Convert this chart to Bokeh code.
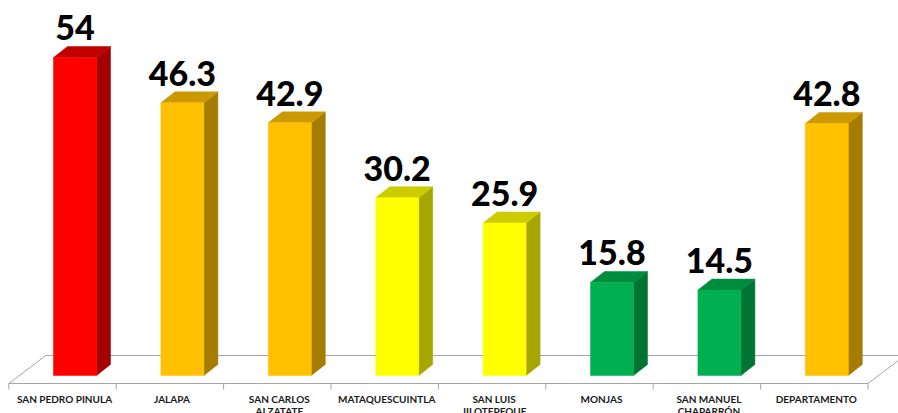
from bokeh.plotting import figure
from bokeh.models import Range1d, ColumnDataSource
from bokeh.core.properties import value
from bokeh.embed import file_html
from bokeh.resources import INLINE

# ---- data ----
categories = ["SAN PEDRO PINULA", "JALAPA", "SAN CARLOS\nALZATATE", "MATAQUESCUINTLA",
              "SAN LUIS\nJILOTEPEQUE", "MONJAS", "SAN MANUEL\nCHAPARRÓN", "DEPARTAMENTO"]
values = [54, 46.3, 42.9, 30.2, 25.9, 15.8, 14.5, 42.8]
value_labels = ["54", "46.3", "42.9", "30.2", "25.9", "15.8", "14.5", "42.8"]
front_colors = ["#FF0000", "#FFC000", "#FFC000", "#FFFF00", "#FFFF00", "#00B050", "#00B050", "#FFC000"]
top_colors = ["#C00000", "#CC9A00", "#CC9A00", "#CCCC00", "#CCCC00", "#008C3E", "#008C3E", "#CC9A00"]
side_colors = ["#A50000", "#A67C00", "#A67C00", "#A6A600", "#A6A600", "#007433", "#007433", "#A67C00"]

# ---- geometry (pixel scale helpers) ----
W, H = 898, 413
OFF = 0            # picture offset of the plot frame
k = 5.889          # px per value unit
u = 107.4          # px per category
x0 = (OFF - 74.5) / u
y_bot = -(OFF + H - 375) / k
y_top = (375 - OFF) / k

p = figure(width=W, height=H, output_backend="svg", toolbar_location=None,
           x_range=Range1d(x0, x0 + W / u), y_range=Range1d(y_bot, y_top),
           min_border=0, outline_line_color=None)
p.axis.visible = False
p.grid.visible = False
p.background_fill_color = "white"
p.border_fill_color = "white"

hw = 21.5 / u
dx = 14 / u
dy = 11 / k
n = len(values)
xs_i = list(range(n))

# floor
f_front = -8 / k
f_back = 20 / k
fl = -0.5 - 10.5 / u - 2 / u
fr = fl + n
fdx = 37 / u
p.line([fl + fdx, fr + fdx], [f_back, f_back], line_color="#A6A6A6", line_width=1)
p.line([fl, fl + fdx], [f_front, f_back], line_color="#A6A6A6", line_width=1)
p.line([fr, fr + fdx], [f_front, f_back], line_color="#A6A6A6", line_width=1)
p.line([fl, fr], [f_front, f_front], line_color="#A6A6A6", line_width=1)
tick_x = [fl + j for j in range(n + 1)]
p.segment(x0=tick_x, y0=[f_front] * (n + 1), x1=tick_x, y1=[f_front - 6 / k] * (n + 1),
          line_color="#A6A6A6", line_width=1)

# bars
src = ColumnDataSource(dict(
    x=xs_i, v=values, l=[i - hw for i in xs_i], r=[i + hw for i in xs_i],
    fc=front_colors,
))
side_xs = [[i + hw, i + hw + dx, i + hw + dx, i + hw] for i in xs_i]
side_ys = [[0, dy, v + dy, v] for v in values]
top_xs = [[i - hw, i - hw + dx, i + hw + dx, i + hw] for i in xs_i]
top_ys = [[v, v + dy, v + dy, v] for v in values]
p.patches(side_xs, side_ys, fill_color=side_colors, line_color=side_colors, line_width=0.5)
p.patches(top_xs, top_ys, fill_color=top_colors, line_color=top_colors, line_width=0.5)
p.quad(left="l", right="r", bottom=0, top="v", fill_color="fc", line_color="fc",
       line_width=0.5, source=src)

# value labels
p.text(x=xs_i, y=[v + 17 / k for v in values], text=value_labels,
       text_font=value("Lato Black"), text_font_size="34px",
       text_color="#000000", text_align="center", text_baseline="bottom")

# category labels
p.text(x=[i - 10.5 / u for i in xs_i], y=[f_front - 9 / k] * n, text=categories,
       text_font=value("Lato"), text_font_style="bold", text_font_size="10px",
       text_color="#1A1A1A", text_align="center", text_baseline="top",
       text_line_height=1.0)

open("out.html", "w").write(file_html(p, INLINE))
